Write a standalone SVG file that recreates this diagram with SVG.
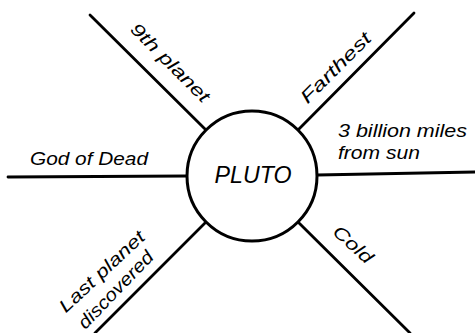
<svg xmlns="http://www.w3.org/2000/svg" width="475" height="333" viewBox="0 0 475 333">
<style>
.bg{fill:#ffffff}
.ln{stroke:#000;stroke-width:2.8;stroke-linecap:round;fill:none}
.ring{stroke:#000;stroke-width:3;fill:#fff}
.t{font-family:"Liberation Sans",Arial,sans-serif;font-style:italic;font-size:18px;fill:#000}
.big{font-size:23px}
</style>
<rect class="bg" x="0" y="0" width="475" height="333"/>
<g id="connectors">
<line class="ln" x1="90" y1="15" x2="206" y2="130"/>
<line class="ln" x1="414" y1="13" x2="298" y2="130"/>
<line class="ln" x1="8" y1="177" x2="187" y2="176"/>
<line class="ln" x1="317" y1="175" x2="475" y2="172"/>
<line class="ln" x1="206" y1="222" x2="95" y2="333"/>
<line class="ln" x1="298" y1="222" x2="410" y2="333"/>
</g>
<g id="pluto">
<circle class="ring" cx="252" cy="176" r="65"/>
<text class="t big" x="253" y="183" text-anchor="middle" textLength="77" lengthAdjust="spacingAndGlyphs">PLUTO</text>
</g>
<g id="ninth-planet">
<text class="t" transform="translate(166,67) rotate(45)" text-anchor="middle" textLength="104" lengthAdjust="spacingAndGlyphs">9th planet</text>
</g>
<g id="farthest">
<text class="t" transform="translate(340,72) rotate(-45)" text-anchor="middle" textLength="92" lengthAdjust="spacingAndGlyphs">Farthest</text>
</g>
<g id="god-of-dead">
<text class="t" x="30" y="165" textLength="118" lengthAdjust="spacingAndGlyphs">God of Dead</text>
</g>
<g id="billion-miles">
<text class="t" x="338" y="137" textLength="129" lengthAdjust="spacingAndGlyphs">3 billion miles</text>
<text class="t" x="338" y="159" textLength="82" lengthAdjust="spacingAndGlyphs">from sun</text>
</g>
<g id="cold">
<text class="t" transform="translate(349,249) rotate(42)" text-anchor="middle" textLength="47" lengthAdjust="spacingAndGlyphs">Cold</text>
</g>
<g id="last-planet">
<text class="t" transform="translate(106,276) rotate(-43)" text-anchor="middle" textLength="110" lengthAdjust="spacingAndGlyphs">Last planet</text>
<text class="t" transform="translate(120,294) rotate(-46)" text-anchor="middle" textLength="100" lengthAdjust="spacingAndGlyphs">discovered</text>
</g>
</svg>
